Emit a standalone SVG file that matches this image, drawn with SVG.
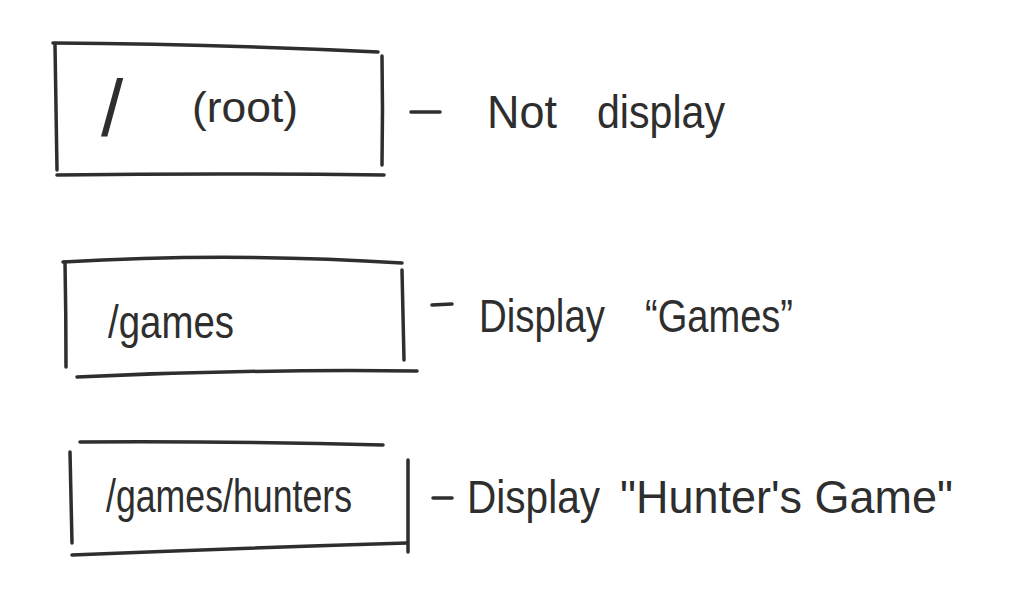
<svg xmlns="http://www.w3.org/2000/svg" width="1030" height="605" viewBox="0 0 1030 605">
<style>
.ln{fill:none;stroke:#2e2e2e;stroke-width:3.5;stroke-linecap:round;stroke-linejoin:round}
.t{font-family:"Liberation Sans","DejaVu Sans",sans-serif;fill:#2e2e2e}
</style>
<rect width="1030" height="605" fill="#ffffff"/>
<g id="node-root">
<path class="ln" d="M53 43 Q210 44 378 52"/>
<path class="ln" d="M55 45 Q56 110 57 170"/>
<path class="ln" d="M382 56 Q383 110 382 165"/>
<path class="ln" d="M57 175 Q220 173 384 175"/>
<text class="t" y="136"><tspan x="101" font-size="80">/</tspan><tspan x="192" y="122" font-size="42" textLength="106" lengthAdjust="spacingAndGlyphs">(root)</tspan></text>
</g>
<g id="node-games">
<path class="ln" d="M63 262 Q230 252 402 263"/>
<path class="ln" d="M65 262 Q66 315 66 367"/>
<path class="ln" d="M402 270 Q403 315 404 360"/>
<path class="ln" d="M77 377 Q250 369 417 371"/>
<text class="t" x="108" y="338" font-size="46" textLength="126" lengthAdjust="spacingAndGlyphs">/games</text>
</g>
<g id="node-hunters">
<path class="ln" d="M80 442 Q230 441 383 445"/>
<path class="ln" d="M70 452 Q71 500 72 543"/>
<path class="ln" d="M408 460 Q408 505 408 552"/>
<path class="ln" d="M72 555 Q240 548 407 543"/>
<text class="t" x="106" y="512" font-size="46" textLength="246" lengthAdjust="spacingAndGlyphs">/games/hunters</text>
</g>
<g id="connectors">
<path class="ln" d="M411 112 L440 112"/>
<path class="ln" d="M432 305 L452 304"/>
<path class="ln" d="M433 498 L452 498"/>
</g>
<g id="label-root">
<text class="t" y="128" font-size="46"><tspan x="487" textLength="70" lengthAdjust="spacingAndGlyphs">Not</tspan><tspan x="597" textLength="128" lengthAdjust="spacingAndGlyphs">display</tspan></text>
</g>
<g id="label-games">
<text class="t" y="332" font-size="46"><tspan x="479" textLength="126" lengthAdjust="spacingAndGlyphs">Display</tspan><tspan x="645" textLength="148" lengthAdjust="spacingAndGlyphs">“Games”</tspan></text>
</g>
<g id="label-hunters">
<text class="t" y="513" font-size="46"><tspan x="467" textLength="133" lengthAdjust="spacingAndGlyphs">Display</tspan><tspan x="620" textLength="333" lengthAdjust="spacingAndGlyphs">"Hunter's Game"</tspan></text>
</g>
</svg>
